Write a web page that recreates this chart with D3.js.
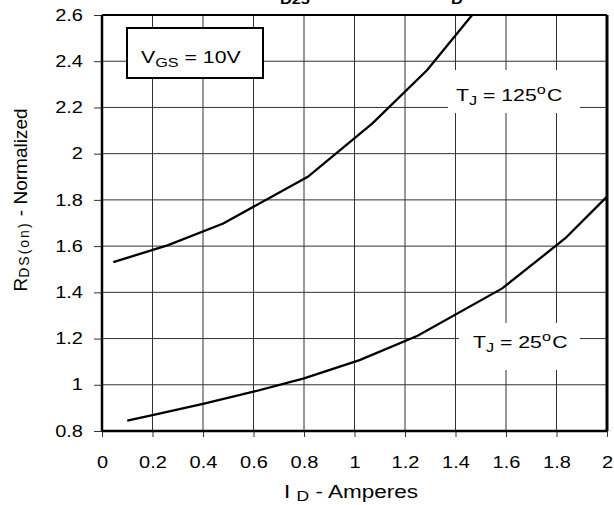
<!DOCTYPE html>
<html>
<head>
<meta charset="utf-8">
<script src="https://cdn.jsdelivr.net/npm/d3@7"></script>
<style>
  body { margin: 0; background: #fff; }
  svg { display: block; font-family: Arial, "Liberation Sans", sans-serif; }
</style>
</head>
<body>
<div id="chart"></div>
<script>
// data
const xTicks = [0, 0.2, 0.4, 0.6, 0.8, 1, 1.2, 1.4, 1.6, 1.8, 2];
const yTicks = [0.8, 1, 1.2, 1.4, 1.6, 1.8, 2, 2.2, 2.4, 2.6];
const id25  = [0.10, 0.20, 0.40, 0.60, 0.80, 1.02, 1.25, 1.585, 1.835, 2.0];
const rds25 = [0.845, 0.869, 0.917, 0.970, 1.028, 1.107, 1.212, 1.417, 1.634, 1.814];
const id125  = [0.045, 0.262, 0.48, 0.815, 1.071, 1.288, 1.466];
const rds125 = [1.531, 1.604, 1.698, 1.90, 2.131, 2.362, 2.6];

const W = 614, H = 505;
const margin = {top: 15, right: 7, bottom: 74, left: 102};
const width = W - margin.left - margin.right;
const height = H - margin.top - margin.bottom;
const sx = 1.25; // the original's lettering is drawn wide

const svg = d3.select("#chart").append("svg")
  .attr("width", W)
  .attr("height", H);

// horizontal text, stretched
function htext(px, py, size) {
  return svg.append("text")
    .attr("transform", `translate(${px},${py}) scale(${sx},1)`)
    .attr("font-size", size);
}

// cut-off title (only subscripts peek in)
htext(280, 4, 13).attr("font-weight", "bold").text("D25");
htext(451, 4, 13).attr("font-weight", "bold").text("D");

const g = svg.append("g")
  .attr("transform", `translate(${margin.left},${margin.top})`);

const x = d3.scaleLinear().domain([0, 2]).range([0, width]);
const y = d3.scaleLinear().domain([0.8, 2.6]).range([height, 0]);

// grid
g.append("g").selectAll("line")
  .data(xTicks.slice(1, -1))
  .join("line")
    .attr("x1", d => x(d)).attr("x2", d => x(d))
    .attr("y1", 0).attr("y2", height)
    .attr("stroke", "#333").attr("stroke-width", 1);
g.append("g").selectAll("line")
  .data(yTicks.slice(1, -1))
  .join("line")
    .attr("x1", 0).attr("x2", width)
    .attr("y1", d => y(d)).attr("y2", d => y(d))
    .attr("stroke", "#333").attr("stroke-width", 1);

// axes
const xAxis = g.append("g")
  .attr("transform", `translate(0,${height})`)
  .call(d3.axisBottom(x).tickValues(xTicks).tickFormat(d3.format("")).tickSize(6).tickPadding(20));
const yAxis = g.append("g")
  .call(d3.axisLeft(y).tickValues(yTicks).tickFormat(d3.format("")).tickSize(8).tickPadding(7));
[xAxis, yAxis].forEach(a => {
  a.select(".domain").remove();
  a.selectAll("line").attr("stroke", "#333").attr("stroke-width", 1);
  a.selectAll("text").attr("font-size", 16).attr("fill", "#000")
    .attr("font-family", "Arial, 'Liberation Sans', sans-serif");
});
xAxis.selectAll("text").attr("transform", `scale(${sx},1)`);
yAxis.selectAll("text").attr("x", -19 / sx).attr("transform", `scale(${sx},1)`);

// frame
g.append("line").attr("x1", 0).attr("x2", width).attr("y1", 0).attr("y2", 0)
  .attr("stroke", "#000").attr("stroke-width", 2);
g.append("line").attr("x1", 0).attr("x2", 0).attr("y1", 0).attr("y2", height)
  .attr("stroke", "#000").attr("stroke-width", 2.5);
g.append("line").attr("x1", 0).attr("x2", width).attr("y1", height).attr("y2", height)
  .attr("stroke", "#000").attr("stroke-width", 2.5);
g.append("line").attr("x1", width).attr("x2", width).attr("y1", 0).attr("y2", height)
  .attr("stroke", "#000").attr("stroke-width", 3);

// curves
const line = d3.line().x(d => x(d[0])).y(d => y(d[1]));
g.append("path").datum(d3.zip(id25, rds25))
  .attr("d", line).attr("fill", "none").attr("stroke", "#000").attr("stroke-width", 2.3);
g.append("path").datum(d3.zip(id125, rds125))
  .attr("d", line).attr("fill", "none").attr("stroke", "#000").attr("stroke-width", 2.3);

// VGS box
svg.append("rect").attr("x", 127).attr("y", 28).attr("width", 136).attr("height", 50)
  .attr("fill", "#fff").attr("stroke", "#000").attr("stroke-width", 2);
const vgs = htext(141, 63, 17);
vgs.append("tspan").text("V");
vgs.append("tspan").attr("font-size", 13).attr("dy", 4).text("GS");
vgs.append("tspan").attr("dy", -4).text(" = 10V");

// temperature labels
function tjLabel(rx, ry, rw, rh, tx, ty, temp) {
  svg.append("rect").attr("x", rx).attr("y", ry).attr("width", rw).attr("height", rh)
    .attr("fill", "#fff");
  const t = htext(tx, ty, 17);
  t.append("tspan").text("T");
  t.append("tspan").attr("font-size", 13).attr("dy", 4).text("J");
  t.append("tspan").attr("dy", -4).text(" = " + temp);
  t.append("tspan").attr("font-size", 13).attr("dy", -7).text("o");
  t.append("tspan").attr("dy", 7).attr("dx", 1).text("C");
}
tjLabel(448, 70, 132, 43, 456, 101, "125");
tjLabel(459, 323, 121, 47, 473, 348, "25");

// axis titles
const xt = htext(351, 498, 18).attr("text-anchor", "middle");
xt.append("tspan").text("I ");
xt.append("tspan").attr("font-size", 14).attr("dy", 3).text("D");
xt.append("tspan").attr("dy", -3).text(" - Amperes");

const yt = svg.append("text")
  .attr("transform", "translate(27,200) rotate(-90)")
  .attr("text-anchor", "middle").attr("font-size", 19);
yt.append("tspan").text("R");
yt.append("tspan").attr("font-size", 14).attr("dy", 2).attr("letter-spacing", 2).text("DS(on)");
yt.append("tspan").attr("dy", -2).text(" - Normalized");
</script>
</body>
</html>
